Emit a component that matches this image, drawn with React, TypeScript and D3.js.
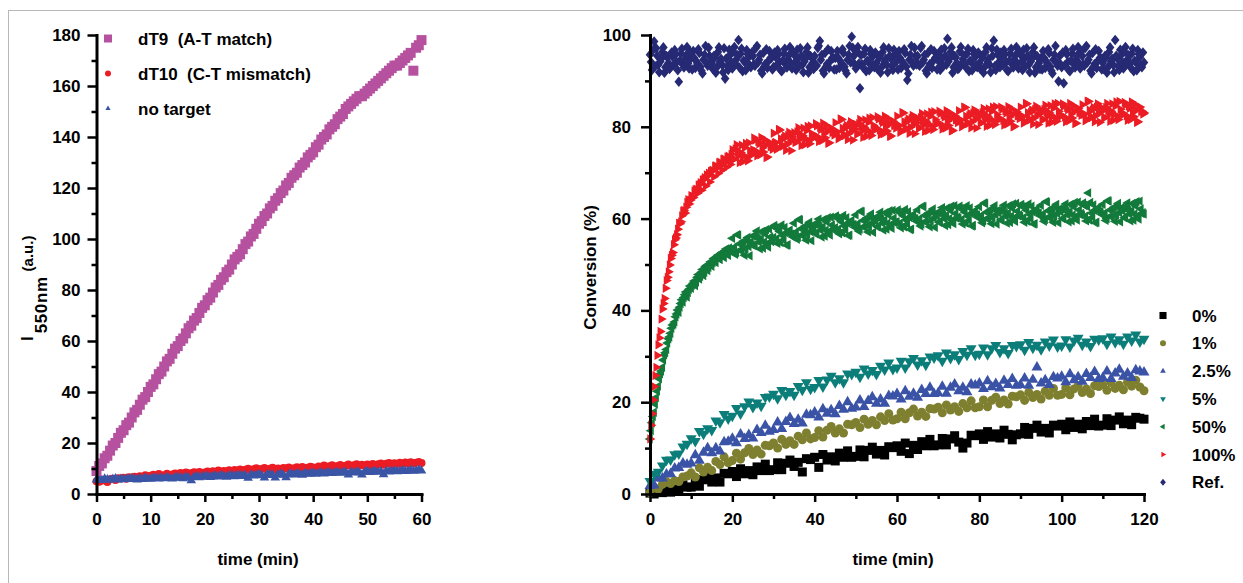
import React, { useRef, useEffect } from 'react';
import * as d3 from 'd3';

// ---- left panel: I550nm vs time (min), sampled every 0.5 min ----
const leftTime = d3.range(0, 60.25, 0.5);
const leftLabels = ['dT9\u00a0 (A-T match)', 'dT10\u00a0 (C-T mismatch)', 'no target'];

const dT9 = [
  9, 11, 12, 14, 15, 17, 19, 20, 22, 24,
  25, 27, 28, 30, 32, 33, 35, 37, 38, 40,
  42, 43, 45, 47, 48, 50, 52, 53, 55, 57,
  58, 60, 61, 63, 65, 66, 68, 69, 71, 73,
  74, 76, 77, 79, 81, 82, 84, 85, 87, 88,
  90, 92, 93, 94, 96, 98, 99, 101, 102, 104,
  106, 107, 109, 110, 112, 113, 115, 116, 118, 119,
  121, 122, 124, 125, 126, 128, 129, 130, 132, 133,
  134, 136, 137, 139, 140, 141, 143, 144, 145, 147,
  148, 149, 151, 152, 153, 154, 155, 156, 156, 157,
  158, 159, 160, 161, 162, 163, 164, 165, 166, 167,
  168, 168, 169, 170, 171, 172, 173, 166, 175, 176,
  178,
];

const dT10 = [
  5.0, 4.8, 5.3, 5.6, 4.7, 5.8, 6.0, 5.5, 6.2, 6.1,
  6.4, 6.0, 6.6, 6.3, 6.8, 6.5, 7.0, 6.7, 7.4, 6.9,
  7.2, 7.6, 7.0, 7.8, 7.4, 7.3, 7.9, 7.5, 7.7, 8.0,
  7.8, 8.2, 7.9, 8.4, 8.1, 8.0, 8.5, 8.3, 8.6, 8.2,
  8.4, 8.8, 8.5, 8.9, 8.6, 9.2, 8.7, 9.0, 8.8, 9.3,
  9.0, 9.4, 9.1, 9.6, 9.2, 9.5, 9.9, 9.3, 9.7, 10.1,
  9.6, 9.8, 10.2, 9.5, 9.9, 10.3, 9.7, 10.0, 9.8, 10.2,
  10.0, 10.4, 9.9, 10.1, 10.5, 10.2, 10.6, 10.0, 10.3, 10.7,
  10.4, 10.1, 10.8, 10.5, 11.2, 10.6, 10.9, 11.3, 10.7, 11.0,
  11.4, 10.9, 11.1, 11.6, 11.0, 11.3, 11.7, 11.2, 11.5, 11.1,
  11.6, 11.3, 11.8, 11.4, 11.7, 12.0, 11.5, 11.9, 12.2, 11.6,
  12.1, 11.8, 12.3, 11.9, 12.4, 12.0, 12.5, 12.1, 12.3, 12.6,
  12.2,
];

const noTarget = [
  5.6, 5.9, 5.4, 6.0, 5.7, 5.5, 5.8, 6.1, 5.6, 5.9,
  5.7, 6.0, 5.8, 6.2, 5.9, 5.6, 6.1, 5.8, 6.3, 6.0,
  5.9, 6.2, 6.4, 6.0, 6.3, 6.1, 6.5, 6.2, 6.0, 6.4,
  6.6, 6.3, 6.1, 6.7, 6.4, 5.3, 6.6, 6.8, 6.5, 6.9,
  6.7, 7.0, 6.6, 6.9, 7.1, 6.8, 7.2, 7.0, 6.7, 7.1,
  7.3, 6.9, 7.2, 7.4, 7.0, 7.3, 6.3, 7.5, 7.2, 7.4,
  7.6, 7.3, 6.4, 7.5, 7.7, 7.4, 6.4, 7.6, 7.8, 7.5,
  6.5, 7.7, 7.9, 7.6, 8.0, 7.8, 7.5, 8.1, 7.9, 8.0,
  8.2, 7.9, 8.1, 8.3, 8.0, 8.2, 8.4, 8.1, 8.3, 8.5,
  8.2, 8.4, 8.6, 7.6, 8.5, 8.3, 8.7, 8.4, 7.6, 8.6,
  8.8, 8.5, 8.7, 8.9, 8.6, 8.8, 7.7, 9.0, 8.7, 8.9,
  9.1, 8.8, 9.0, 9.2, 8.9, 9.1, 9.3, 9.0, 9.2, 9.4,
  9.1,
];

// ---- right panel: Conversion (%) vs time (min) ----
const slowTime = d3.range(0, 120.5, 1);
const fastTime = d3.range(0, 120.25, 0.5);
const fastTimeB = d3.range(0.25, 120, 0.5);
const rightLabels = ['0%', '1%', '2.5%', '5%', '50%', '100%', 'Ref.'];

const conv0 = [
  0.2, 0.0, 0.7, 0.3, 0.7, 0.4, 1.3, 1.2, 2.0, 1.5,
  1.5, 3.0, 1.7, 3.1, 4.0, 2.6, 3.5, 2.6, 4.5, 4.4,
  4.9, 3.8, 5.5, 4.4, 5.1, 4.2, 5.9, 5.1, 6.5, 5.1,
  5.3, 6.8, 5.3, 6.7, 7.4, 6.0, 6.9, 4.8, 7.7, 7.5,
  8.0, 5.8, 8.6, 7.4, 8.1, 7.2, 8.9, 8.0, 9.4, 8.0,
  8.2, 9.6, 8.1, 9.5, 10.2, 8.7, 9.5, 8.5, 10.3, 10.1,
  10.5, 9.3, 11.1, 8.8, 10.6, 9.7, 11.4, 10.5, 11.9, 10.5,
  10.7, 12.1, 10.7, 12.0, 12.7, 11.3, 10.0, 11.1, 12.8, 12.7,
  13.1, 11.9, 13.6, 12.4, 13.1, 12.2, 13.9, 13.0, 11.8, 12.9,
  13.1, 14.5, 13.0, 14.3, 15.0, 13.5, 14.3, 13.3, 15.0, 14.8,
  15.2, 14.0, 15.7, 14.5, 15.2, 14.2, 15.8, 14.9, 16.3, 14.8,
  15.0, 16.4, 14.9, 16.1, 16.8, 15.3, 16.1, 15.1, 16.7, 16.5,
  16.3,
];

const conv1 = [
  0.3, 1.4, 1.1, 2.1, 2.7, 2.3, 2.9, 2.7, 3.7, 3.9,
  4.6, 3.7, 5.7, 4.8, 5.8, 5.1, 7.1, 6.4, 8.1, 6.8,
  7.3, 8.9, 7.6, 9.0, 9.9, 8.6, 9.6, 8.7, 10.6, 10.5,
  11.1, 10.0, 11.9, 10.8, 11.6, 10.8, 12.6, 11.8, 13.3, 12.0,
  12.3, 13.8, 12.4, 13.9, 14.7, 13.3, 14.2, 13.3, 15.2, 15.1,
  15.6, 14.5, 16.3, 15.2, 16.0, 15.1, 16.8, 16.0, 17.5, 16.1,
  16.4, 17.8, 16.4, 17.7, 18.5, 17.0, 17.8, 16.9, 18.6, 18.5,
  18.9, 17.7, 19.4, 18.3, 19.0, 18.0, 19.7, 18.8, 20.3, 18.8,
  19.0, 20.5, 19.0, 20.4, 21.1, 19.7, 20.5, 19.6, 21.3, 21.2,
  21.6, 20.4, 22.1, 21.0, 21.7, 20.7, 22.4, 21.5, 23.0, 21.5,
  21.7, 23.1, 21.6, 22.9, 23.6, 22.1, 22.9, 21.9, 23.6, 23.4,
  23.8, 22.6, 24.3, 23.0, 23.7, 22.7, 24.4, 23.5, 24.8, 23.3,
  22.5,
];

const conv25 = [
  1.8, 1.9, 3.4, 3.4, 4.3, 4.4, 5.6, 5.7, 6.7, 6.4,
  6.7, 8.5, 7.3, 9.0, 10.0, 8.9, 10.0, 9.3, 11.3, 11.4,
  12.1, 11.1, 13.0, 12.0, 12.9, 12.1, 14.0, 13.3, 14.9, 13.6,
  14.0, 15.6, 14.2, 15.7, 16.6, 15.3, 16.2, 15.4, 17.3, 17.2,
  17.8, 16.7, 18.5, 17.5, 18.3, 17.4, 19.2, 18.4, 20.0, 18.6,
  18.9, 20.4, 19.0, 20.3, 21.1, 19.7, 20.6, 19.7, 21.4, 21.3,
  21.8, 20.6, 22.4, 21.2, 21.9, 21.0, 22.7, 21.8, 23.2, 21.8,
  22.0, 23.4, 21.9, 23.2, 23.9, 22.4, 23.2, 22.2, 23.9, 23.7,
  24.1, 22.9, 24.6, 23.3, 24.0, 23.0, 24.7, 23.8, 25.1, 23.6,
  23.8, 25.2, 23.6, 24.9, 27.6, 24.1, 24.8, 23.8, 25.5, 25.2,
  25.6, 24.4, 26.1, 24.8, 25.5, 24.5, 26.2, 25.3, 26.6, 25.1,
  25.3, 26.7, 25.1, 26.3, 27.1, 25.6, 26.3, 25.3, 27.0, 26.7,
  26.5,
];

const conv5 = [
  2.8, 4.4, 4.8, 6.2, 7.4, 7.5, 8.6, 8.8, 10.3, 10.9,
  12.1, 11.5, 13.7, 13.1, 14.3, 13.9, 16.0, 15.6, 17.4, 16.4,
  17.0, 18.7, 17.5, 19.1, 20.1, 18.9, 19.9, 19.2, 21.1, 21.2,
  21.8, 20.8, 22.6, 21.6, 22.4, 21.6, 23.5, 22.7, 24.3, 22.9,
  23.3, 24.8, 23.4, 24.9, 25.7, 24.3, 25.2, 24.3, 26.2, 26.1,
  26.6, 25.5, 27.3, 26.2, 27.0, 26.1, 27.9, 27.1, 28.6, 27.2,
  27.5, 29.0, 27.5, 28.9, 29.6, 28.2, 29.1, 28.1, 29.9, 29.7,
  30.2, 29.0, 30.8, 29.6, 30.4, 29.4, 31.1, 30.3, 31.7, 30.3,
  30.5, 31.9, 30.4, 31.7, 32.4, 30.9, 31.7, 30.7, 32.4, 32.2,
  32.6, 31.4, 33.1, 31.8, 32.5, 31.5, 33.2, 32.3, 33.6, 32.1,
  32.3, 33.7, 32.1, 33.4, 34.0, 32.5, 33.2, 32.2, 33.8, 33.6,
  33.9, 32.7, 34.3, 33.0, 33.7, 32.7, 34.3, 33.4, 34.7, 33.2,
  33.8,
];

const conv50 = [
  12.0, 15.5, 17.8, 21.0, 23.5, 26.2, 27.6, 30.3, 31.5, 33.8,
  35.0, 36.8, 37.5, 39.2, 39.6, 41.5, 41.8, 43.4, 42.9, 44.6,
  44.8, 45.9, 45.4, 47.2, 46.8, 48.3, 47.6, 49.5, 48.7, 50.2,
  49.6, 51.3, 50.4, 52.0, 51.1, 52.6, 51.5, 53.4, 52.0, 53.1,
  55.7, 53.7, 52.6, 56.4, 53.2, 54.6, 52.0, 55.2, 53.9, 54.9,
  56.2, 54.2, 57.3, 54.9, 55.6, 53.6, 56.7, 54.5, 57.7, 55.0,
  55.9, 58.0, 54.6, 57.2, 58.6, 55.4, 56.9, 54.3, 57.5, 56.6,
  59.0, 57.0, 55.9, 59.7, 56.5, 57.9, 55.3, 58.5, 57.2, 58.2,
  58.8, 56.8, 59.9, 57.5, 58.2, 56.2, 59.3, 57.1, 60.3, 57.6,
  58.0, 60.1, 56.7, 59.3, 60.7, 57.5, 59.0, 56.4, 59.6, 58.7,
  60.8, 58.8, 57.7, 61.5, 58.3, 59.7, 57.1, 60.3, 59.0, 60.0,
  60.3, 58.3, 61.4, 59.0, 59.7, 57.7, 60.8, 58.6, 61.8, 59.1,
  59.3, 61.4, 58.0, 60.6, 62.0, 58.8, 60.3, 57.7, 60.9, 60.0,
  61.9, 59.9, 58.8, 62.6, 59.4, 60.8, 58.2, 61.4, 60.1, 61.1,
  61.3, 59.3, 62.4, 60.0, 60.7, 58.7, 61.8, 59.6, 62.8, 60.1,
  60.1, 62.2, 58.8, 61.4, 62.8, 59.6, 61.1, 58.5, 61.7, 60.8,
  62.6, 60.6, 59.5, 63.3, 60.1, 61.5, 58.9, 62.1, 60.8, 61.8,
  61.8, 59.8, 62.9, 60.5, 61.2, 59.2, 62.3, 60.1, 63.3, 60.6,
  60.5, 62.6, 59.2, 61.8, 63.2, 60.0, 61.5, 58.9, 62.1, 61.2,
  62.9, 60.9, 59.8, 63.6, 60.4, 61.8, 59.2, 62.4, 61.1, 62.1,
  62.1, 60.1, 63.2, 60.8, 61.5, 59.5, 62.6, 60.4, 63.6, 60.9,
  60.8, 62.9, 59.5, 65.6, 63.5, 60.3, 61.8, 59.2, 62.4, 61.5,
  63.1, 61.1, 60.0, 63.8, 60.6, 62.0, 59.4, 62.6, 61.3, 62.3,
  62.3, 60.3, 63.4, 61.0, 61.7, 59.7, 62.8, 60.6, 63.8, 61.1,
  61.0,
];

// 50% readings taken between the ones above (t = 0.25, 0.75, ...)
const conv50B = [
  13.8, 16.9, 19.6, 22.4, 25.1, 26.8, 29.2, 30.8, 32.9, 34.2,
  36.1, 37.0, 38.6, 40.1, 40.7, 42.3, 42.8, 44.0, 43.9, 45.3,
  45.5, 46.4, 46.2, 47.8, 47.4, 48.9, 48.3, 49.8, 49.4, 50.6,
  50.4, 51.0, 51.7, 51.3, 52.4, 52.0, 53.0, 52.5, 53.6, 52.8,
  53.6, 52.2, 56.5, 54.5, 52.9, 55.1, 53.3, 55.9, 51.9, 54.3,
  54.1, 56.4, 55.7, 53.4, 57.2, 54.9, 57.6, 53.8, 56.0, 55.2,
  58.5, 55.6, 57.7, 54.8, 56.3, 58.1, 54.2, 57.3, 56.6, 56.0,
  56.9, 55.5, 59.8, 57.8, 56.2, 58.4, 56.6, 59.2, 55.2, 57.6,
  56.7, 59.0, 58.3, 56.0, 59.8, 57.5, 60.2, 56.4, 58.6, 57.8,
  60.6, 57.7, 59.8, 56.9, 58.4, 60.2, 56.3, 59.4, 58.7, 58.1,
  58.7, 57.3, 61.6, 59.6, 58.0, 60.2, 58.4, 61.0, 57.0, 59.4,
  58.2, 60.5, 59.8, 57.5, 61.3, 59.0, 61.7, 57.9, 60.1, 59.3,
  61.9, 59.0, 61.1, 58.2, 59.7, 61.5, 57.6, 60.7, 60.0, 59.4,
  59.8, 58.4, 62.7, 60.7, 59.1, 61.3, 59.5, 62.1, 58.1, 60.5,
  59.2, 61.5, 60.8, 58.5, 62.3, 60.0, 62.7, 58.9, 61.1, 60.3,
  62.7, 59.8, 61.9, 59.0, 60.5, 62.3, 58.4, 61.5, 60.8, 60.2,
  60.5, 59.1, 63.4, 61.4, 59.8, 62.0, 60.2, 62.8, 58.8, 61.2,
  59.7, 62.0, 61.3, 59.0, 62.8, 60.5, 63.2, 59.4, 61.6, 60.8,
  63.1, 60.2, 62.3, 59.4, 60.9, 62.7, 58.8, 61.9, 61.2, 60.6,
  60.8, 59.4, 63.7, 61.7, 60.1, 62.3, 60.5, 63.1, 59.1, 61.5,
  60.0, 62.3, 61.6, 59.3, 63.1, 60.8, 63.5, 59.7, 61.9, 61.1,
  63.4, 60.5, 62.6, 59.7, 61.2, 63.0, 59.1, 62.2, 61.5, 60.9,
  61.0, 59.6, 63.9, 61.9, 60.3, 62.5, 60.7, 63.3, 59.3, 61.7,
  60.2, 62.5, 61.8, 59.5, 63.3, 61.0, 63.7, 59.9, 62.1, 61.3,
];

const conv100 = [
  12.0, 17.5, 23.4, 27.6, 32.5, 35.4, 40.3, 42.6, 46.5, 48.4,
  51.3, 52.6, 55.4, 56.5, 59.0, 59.3, 61.6, 61.2, 63.5, 63.2,
  65.0, 64.6, 66.3, 65.5, 67.4, 66.2, 68.5, 67.1, 69.3, 68.0,
  70.4, 69.1, 71.5, 69.8, 72.3, 70.6, 73.0, 71.2, 73.6, 71.8,
  75.0, 73.0, 76.1, 73.7, 74.4, 72.4, 75.5, 73.3, 76.5, 73.8,
  75.0, 77.1, 73.7, 76.3, 77.7, 74.5, 76.0, 73.4, 76.6, 75.7,
  78.6, 76.6, 75.5, 79.3, 76.1, 77.5, 74.9, 78.1, 76.8, 77.8,
  78.7, 76.7, 79.8, 77.4, 78.1, 76.1, 79.2, 77.0, 80.2, 77.5,
  78.1, 80.2, 76.8, 79.4, 80.8, 77.6, 79.1, 76.5, 79.7, 78.8,
  80.9, 78.9, 77.8, 81.6, 78.4, 79.8, 77.2, 80.4, 79.1, 80.1,
  80.5, 78.5, 81.6, 79.2, 79.9, 77.9, 81.0, 78.8, 82.0, 79.3,
  79.6, 81.7, 78.3, 80.9, 82.3, 79.1, 80.6, 78.0, 81.2, 80.3,
  82.3, 80.3, 79.2, 83.0, 79.8, 81.2, 78.6, 81.8, 80.5, 81.5,
  81.8, 79.8, 82.9, 80.5, 81.2, 79.2, 82.3, 80.1, 83.3, 80.6,
  80.8, 82.9, 79.5, 82.1, 83.5, 80.3, 81.8, 79.2, 82.4, 81.5,
  83.5, 81.5, 80.4, 84.2, 81.0, 82.4, 79.8, 83.0, 81.7, 82.7,
  82.9, 80.9, 84.0, 81.6, 82.3, 80.3, 83.4, 81.2, 84.4, 81.7,
  81.7, 83.8, 80.4, 83.0, 84.4, 81.2, 82.7, 80.1, 83.3, 82.4,
  84.3, 82.3, 81.2, 85.0, 81.8, 83.2, 80.6, 83.8, 82.5, 83.5,
  83.6, 81.6, 84.7, 82.3, 83.0, 81.0, 84.1, 81.9, 85.1, 82.4,
  82.4, 84.5, 81.1, 83.7, 85.1, 81.9, 83.4, 80.8, 84.0, 83.1,
  84.8, 82.8, 81.7, 85.5, 82.3, 83.7, 81.1, 84.3, 83.0, 84.0,
  84.0, 82.0, 85.1, 82.7, 83.4, 81.4, 84.5, 82.3, 85.5, 82.8,
  82.7, 84.8, 81.4, 84.0, 85.4, 82.2, 83.7, 81.1, 84.3, 83.4,
  83.0,
];

const conv100B = [
  15.0, 20.5, 25.8, 30.2, 34.0, 38.1, 41.5, 44.8, 47.2, 49.9,
  52.0, 54.3, 55.8, 57.7, 58.9, 60.6, 61.8, 62.5, 64.1, 64.0,
  64.9, 66.0, 66.4, 67.3, 67.8, 68.4, 68.9, 69.5, 69.9, 70.3,
  70.5, 71.4, 71.0, 72.2, 71.6, 72.9, 72.3, 73.4, 72.7, 74.0,
  72.9, 75.2, 74.5, 72.2, 76.0, 73.7, 76.4, 72.6, 74.8, 74.0,
  77.6, 74.7, 76.8, 73.9, 75.4, 77.2, 73.3, 76.4, 75.7, 75.1,
  76.5, 75.1, 79.4, 77.4, 75.8, 78.0, 76.2, 78.8, 74.8, 77.2,
  76.6, 78.9, 78.2, 75.9, 79.7, 77.4, 80.1, 76.3, 78.5, 77.7,
  80.7, 77.8, 79.9, 77.0, 78.5, 80.3, 76.4, 79.5, 78.8, 78.2,
  78.8, 77.4, 81.7, 79.7, 78.1, 80.3, 78.5, 81.1, 77.1, 79.5,
  78.4, 80.7, 80.0, 77.7, 81.5, 79.2, 81.9, 78.1, 80.3, 79.5,
  82.2, 79.3, 81.4, 78.5, 80.0, 81.8, 77.9, 81.0, 80.3, 79.7,
  80.2, 78.8, 83.1, 81.1, 79.5, 81.7, 79.9, 82.5, 78.5, 80.9,
  79.7, 82.0, 81.3, 79.0, 82.8, 80.5, 83.2, 79.4, 81.6, 80.8,
  83.4, 80.5, 82.6, 79.7, 81.2, 83.0, 79.1, 82.2, 81.5, 80.9,
  81.4, 80.0, 84.3, 82.3, 80.7, 82.9, 81.1, 83.7, 79.7, 82.1,
  80.8, 83.1, 82.4, 80.1, 83.9, 81.6, 84.3, 80.5, 82.7, 81.9,
  84.3, 81.4, 83.5, 80.6, 82.1, 83.9, 80.0, 83.1, 82.4, 81.8,
  82.2, 80.8, 85.1, 83.1, 81.5, 83.7, 81.9, 84.5, 80.5, 82.9,
  81.5, 83.8, 83.1, 80.8, 84.6, 82.3, 85.0, 81.2, 83.4, 82.6,
  85.0, 82.1, 84.2, 81.3, 82.8, 84.6, 80.7, 83.8, 83.1, 82.5,
  82.7, 81.3, 85.6, 83.6, 82.0, 84.2, 82.4, 85.0, 81.0, 83.4,
  81.9, 84.2, 83.5, 81.2, 85.0, 82.7, 85.4, 81.6, 83.8, 83.0,
  85.3, 82.4, 84.5, 81.6, 83.1, 84.9, 81.0, 84.1, 83.4, 82.8,
];

const convRef = [
  95.7, 92.4, 98.6, 97.1, 93.5, 94.2, 96.3, 91.8, 95.4, 93.9,
  93.0, 95.2, 96.7, 94.1, 89.8, 95.9, 93.6, 94.7, 97.4, 92.7,
  95.0, 96.5, 92.8, 93.7, 96.1, 92.2, 94.6, 97.6, 93.3, 95.4,
  93.9, 95.4, 91.8, 96.3, 94.2, 93.5, 97.1, 94.9, 92.4, 95.7,
  92.7, 97.4, 94.7, 98.9, 95.9, 92.1, 94.1, 96.7, 95.2, 93.0,
  95.4, 93.3, 97.6, 94.6, 92.2, 96.1, 93.7, 92.8, 96.5, 95.0,
  93.0, 95.2, 96.7, 94.1, 92.1, 95.9, 93.6, 94.7, 97.4, 92.7,
  95.7, 92.4, 94.9, 97.1, 93.5, 94.2, 96.3, 91.8, 95.4, 93.9,
  95.4, 93.3, 97.6, 94.6, 92.2, 96.1, 93.7, 92.8, 96.5, 95.0,
  95.0, 96.5, 92.8, 93.7, 96.1, 92.2, 94.6, 97.6, 99.6, 95.4,
  92.7, 97.4, 88.4, 93.6, 95.9, 92.1, 94.1, 96.7, 95.2, 93.0,
  93.9, 95.4, 91.8, 96.3, 94.2, 93.5, 97.1, 94.9, 92.4, 95.7,
  95.0, 96.5, 92.8, 93.7, 96.1, 90.2, 94.6, 97.6, 93.3, 95.4,
  95.4, 93.3, 97.6, 94.6, 92.2, 96.1, 93.7, 92.8, 96.5, 95.0,
  95.7, 92.4, 94.9, 97.1, 93.5, 94.2, 96.3, 91.8, 95.4, 93.9,
  92.7, 97.4, 94.7, 93.6, 95.9, 92.1, 94.1, 96.7, 95.2, 93.0,
  93.9, 95.4, 91.8, 96.3, 94.2, 93.5, 97.1, 98.8, 92.4, 95.7,
  93.0, 95.2, 96.7, 94.1, 92.1, 95.9, 93.6, 94.7, 97.4, 92.7,
  95.7, 92.4, 94.9, 97.1, 93.5, 94.2, 96.3, 91.8, 95.4, 93.9,
  95.0, 96.5, 92.8, 93.7, 96.1, 92.2, 94.6, 97.6, 93.3, 95.4,
  93.0, 89.5, 96.7, 94.1, 92.1, 95.9, 93.6, 94.7, 97.4, 92.7,
  95.4, 93.3, 97.6, 94.6, 92.2, 96.1, 93.7, 92.8, 96.5, 95.0,
  93.9, 95.4, 91.8, 96.3, 94.2, 93.5, 98.9, 94.9, 92.4, 95.7,
  92.7, 97.4, 94.7, 93.6, 95.9, 92.1, 94.1, 96.7, 95.2, 93.0,
  94.0,
];

const convRefB = [
  94.1, 96.8, 93.2, 95.5, 91.9, 94.8, 97.3, 93.0, 95.1, 92.6,
  96.2, 93.4, 95.8, 92.3, 94.4, 97.0, 92.9, 95.6, 93.8, 96.4,
  92.5, 95.0, 94.3, 96.9, 93.1, 91.6, 95.7, 94.0, 97.2, 93.6,
  92.6, 95.1, 93.0, 97.3, 94.8, 91.9, 90.5, 93.2, 96.8, 94.1,
  96.4, 93.8, 95.6, 92.9, 97.0, 94.4, 92.3, 95.8, 93.4, 96.2,
  93.6, 97.2, 94.0, 95.7, 91.6, 93.1, 96.9, 94.3, 95.0, 92.5,
  96.2, 93.4, 95.8, 92.3, 94.4, 97.0, 92.9, 95.6, 93.8, 96.4,
  94.1, 96.8, 93.2, 95.5, 91.9, 94.8, 97.3, 93.0, 95.1, 92.6,
  93.6, 97.2, 98.7, 95.7, 91.6, 93.1, 96.9, 94.3, 95.0, 92.5,
  92.5, 95.0, 94.3, 96.9, 93.1, 91.6, 95.7, 94.0, 97.2, 93.6,
  96.4, 93.8, 95.6, 92.9, 97.0, 94.4, 92.3, 95.8, 93.4, 96.2,
  92.6, 95.1, 93.0, 97.3, 94.8, 91.9, 95.5, 93.2, 96.8, 94.1,
  92.5, 95.0, 94.3, 96.9, 93.1, 91.6, 95.7, 94.0, 97.2, 93.6,
  93.6, 97.2, 94.0, 95.7, 91.6, 93.1, 96.9, 94.3, 95.0, 92.5,
  94.1, 96.8, 93.2, 95.5, 99.2, 94.8, 97.3, 93.0, 95.1, 92.6,
  96.4, 93.8, 95.6, 92.9, 97.0, 94.4, 92.3, 95.8, 93.4, 96.2,
  92.6, 95.1, 93.0, 97.3, 94.8, 91.9, 95.5, 93.2, 96.8, 94.1,
  96.2, 93.4, 95.8, 92.3, 94.4, 97.0, 92.9, 95.6, 93.8, 96.4,
  94.1, 96.8, 93.2, 95.5, 91.9, 94.8, 97.3, 93.0, 95.1, 92.6,
  92.5, 95.0, 94.3, 96.9, 93.1, 91.6, 95.7, 94.0, 89.9, 93.6,
  96.2, 93.4, 95.8, 92.3, 94.4, 97.0, 92.9, 95.6, 93.8, 96.4,
  93.6, 97.2, 94.0, 95.7, 91.6, 93.1, 96.9, 94.3, 95.0, 92.5,
  92.6, 95.1, 93.0, 97.3, 94.8, 91.9, 95.5, 93.2, 96.8, 94.1,
  96.4, 93.8, 95.6, 92.9, 97.0, 94.4, 92.3, 95.8, 93.4, 96.2,
];

const FONT = '"Liberation Sans", Arial, Helvetica, sans-serif';

type Shape = 'square' | 'circle' | 'up' | 'down' | 'left' | 'right' | 'diamond';

const diamondType = {
  draw(context: any, size: number) {
    const r = Math.sqrt(size / 2);
    const w = r * 0.9, h = r * 1.1;
    context.moveTo(0, -h);
    context.lineTo(w, 0);
    context.lineTo(0, h);
    context.lineTo(-w, 0);
    context.closePath();
  },
};

const rotation: Record<Shape, number> = { square: 0, circle: 0, diamond: 0, up: 0, down: 180, left: -90, right: 90 };

function symbolPath(shape: Shape, size: number): string {
  const type: any = shape === 'square' ? d3.symbolSquare
    : shape === 'circle' ? d3.symbolCircle
    : shape === 'diamond' ? diamondType
    : d3.symbolTriangle;
  return d3.symbol().type(type).size(size)() as string;
}

const leftStyles = [
  { color: '#b6519f', shape: 'square' as Shape, size: 100, legendSize: 64 },
  { color: '#ec1c24', shape: 'circle' as Shape, size: 50, legendSize: 28 },
  { color: '#3a55a5', shape: 'up' as Shape, size: 40, legendSize: 12 },
];

const rightStyles = [
  { color: '#000000', shape: 'square' as Shape, size: 81, legendSize: 50 },
  { color: '#7f7f30', shape: 'circle' as Shape, size: 64, legendSize: 28 },
  { color: '#3a53a6', shape: 'up' as Shape, size: 52, legendSize: 14 },
  { color: '#0c7e7a', shape: 'down' as Shape, size: 52, legendSize: 14 },
  { color: '#127a3a', shape: 'left' as Shape, size: 38, legendSize: 14 },
  { color: '#ec1c24', shape: 'right' as Shape, size: 38, legendSize: 14 },
  { color: '#262a74', shape: 'diamond' as Shape, size: 46, legendSize: 20 },
];

function drawAxes(g: any, x: any, y: any, xMajor: number[], xMinor: number[], yMajor: number[], yMinor: number[], yPad: number) {
  const xg = g.append('g').attr('transform', `translate(0,${y.range()[0]})`);
  xg.call(d3.axisBottom(x).tickValues(xMajor).tickSize(8).tickPadding(11).tickSizeOuter(0));
  const xm = g.append('g').attr('transform', `translate(0,${y.range()[0]})`);
  xm.call(d3.axisBottom(x).tickValues(xMinor).tickSize(5).tickFormat(() => '').tickSizeOuter(0));
  xm.select('.domain').remove();

  const yg = g.append('g').attr('transform', `translate(${x.range()[0]},0)`);
  yg.call(d3.axisLeft(y).tickValues(yMajor).tickSize(9).tickPadding(yPad).tickSizeOuter(0));
  const ym = g.append('g').attr('transform', `translate(${x.range()[0]},0)`);
  ym.call(d3.axisLeft(y).tickValues(yMinor).tickSize(5).tickFormat(() => '').tickSizeOuter(0));
  ym.select('.domain').remove();

  [xg, yg].forEach((a: any) => {
    a.select('.domain').attr('stroke-width', 3).attr('stroke-linecap', 'square');
    a.selectAll('text').attr('font-family', FONT).attr('font-weight', 'bold').attr('font-size', 17).attr('fill', '#000');
  });
  [xg, yg, xm, ym].forEach((a: any) => a.selectAll('.tick line').attr('stroke-width', 2.5));
}

function drawPoints(g: any, x: any, y: any, time: number[], values: number[], style: any) {
  const d = symbolPath(style.shape, style.size);
  const rot = rotation[style.shape as Shape];
  g.append('g')
    .selectAll('path')
    .data(values)
    .enter()
    .append('path')
    .attr('d', d)
    .attr('fill', style.color)
    .attr('transform', (v: number, i: number) => `translate(${x(time[i])},${y(v)}) rotate(${rot})`);
}

function drawLegend(g: any, labels: string[], styles: any[], mx: number, tx: number, y0: number, step: number) {
  labels.forEach((label, i) => {
    const s = styles[i];
    const cy = y0 + i * step;
    g.append('path')
      .attr('d', symbolPath(s.shape, s.legendSize))
      .attr('fill', s.color)
      .attr('transform', `translate(${mx},${cy}) rotate(${rotation[s.shape as Shape]})`);
    g.append('text')
      .attr('x', tx)
      .attr('y', cy)
      .attr('dy', '0.36em')
      .attr('font-family', FONT)
      .attr('font-weight', 'bold')
      .attr('font-size', 17)
      .text(label);
  });
}

const App = () => {
  const svgRef = useRef<SVGSVGElement>(null);

  useEffect(() => {
    const svg = d3.select(svgRef.current);
    svg.selectAll('*').remove();

    // frame
    svg.append('rect')
      .attr('x', 8.5).attr('y', 10.5).attr('width', 1300).attr('height', 700)
      .attr('fill', 'none').attr('stroke', '#b8b8b8').attr('stroke-width', 1);

    // left panel
    const lx = d3.scaleLinear().domain([0, 60]).range([96.5, 421.5]);
    const ly = d3.scaleLinear().domain([0, 180]).range([494, 35]);
    const left = svg.append('g');
    drawPoints(left, lx, ly, leftTime, dT10, leftStyles[1]);
    drawPoints(left, lx, ly, leftTime, noTarget, leftStyles[2]);
    drawPoints(left, lx, ly, leftTime, dT9, leftStyles[0]);
    drawAxes(left, lx, ly, d3.range(0, 61, 10), d3.range(5, 60, 10), d3.range(0, 181, 20), d3.range(10, 180, 20), 7);
    drawLegend(left, leftLabels, leftStyles, 108, 138, 38.5, 35);

    left.append('text')
      .attr('x', 258).attr('y', 565)
      .attr('text-anchor', 'middle')
      .attr('font-family', FONT).attr('font-weight', 'bold').attr('font-size', 17)
      .text('time (min)');

    const yt = left.append('text')
      .attr('transform', 'translate(33,341) rotate(-90)')
      .attr('font-family', FONT).attr('font-weight', 'bold').attr('font-size', 17);
    yt.append('tspan').text('I');
    yt.append('tspan').attr('dx', 3).attr('dy', 14).attr('letter-spacing', 0.6).text('550nm');
    yt.append('tspan').attr('dx', 5).attr('dy', -14).attr('font-size', 15).text('(a.u.)');

    // right panel
    const rx = d3.scaleLinear().domain([0, 120]).range([650, 1144]);
    const ry = d3.scaleLinear().domain([0, 100]).range([494, 35]);
    const right = svg.append('g');
    const rightSets = [
      { time: slowTime, values: conv0, style: rightStyles[0] },
      { time: slowTime, values: conv1, style: rightStyles[1] },
      { time: slowTime, values: conv25, style: rightStyles[2] },
      { time: slowTime, values: conv5, style: rightStyles[3] },
      { time: fastTime, values: conv50, style: rightStyles[4] },
      { time: fastTimeB, values: conv50B, style: rightStyles[4] },
      { time: fastTime, values: conv100, style: rightStyles[5] },
      { time: fastTimeB, values: conv100B, style: rightStyles[5] },
      { time: fastTime, values: convRef, style: rightStyles[6] },
      { time: fastTimeB, values: convRefB, style: rightStyles[6] },
    ];
    rightSets.forEach((s) => drawPoints(right, rx, ry, s.time, s.values, s.style));
    drawAxes(right, rx, ry, d3.range(0, 121, 20), d3.range(10, 120, 20), d3.range(0, 101, 20), d3.range(10, 100, 20), 10);
    drawLegend(right, rightLabels, rightStyles, 1163, 1192, 315.5, 27.8);

    right.append('text')
      .attr('x', 893).attr('y', 565)
      .attr('text-anchor', 'middle')
      .attr('font-family', FONT).attr('font-weight', 'bold').attr('font-size', 17)
      .text('time (min)');

    right.append('text')
      .attr('transform', 'translate(596,267.5) rotate(-90)')
      .attr('text-anchor', 'middle')
      .attr('font-family', FONT).attr('font-weight', 'bold').attr('font-size', 17)
      .text('Conversion (%)');
  }, []);

  return (
    <svg
      ref={svgRef}
      width={1243}
      height={583}
      style={{ position: 'absolute', left: 0, top: 0, background: '#fff' }}
    />
  );
};

export default App;
